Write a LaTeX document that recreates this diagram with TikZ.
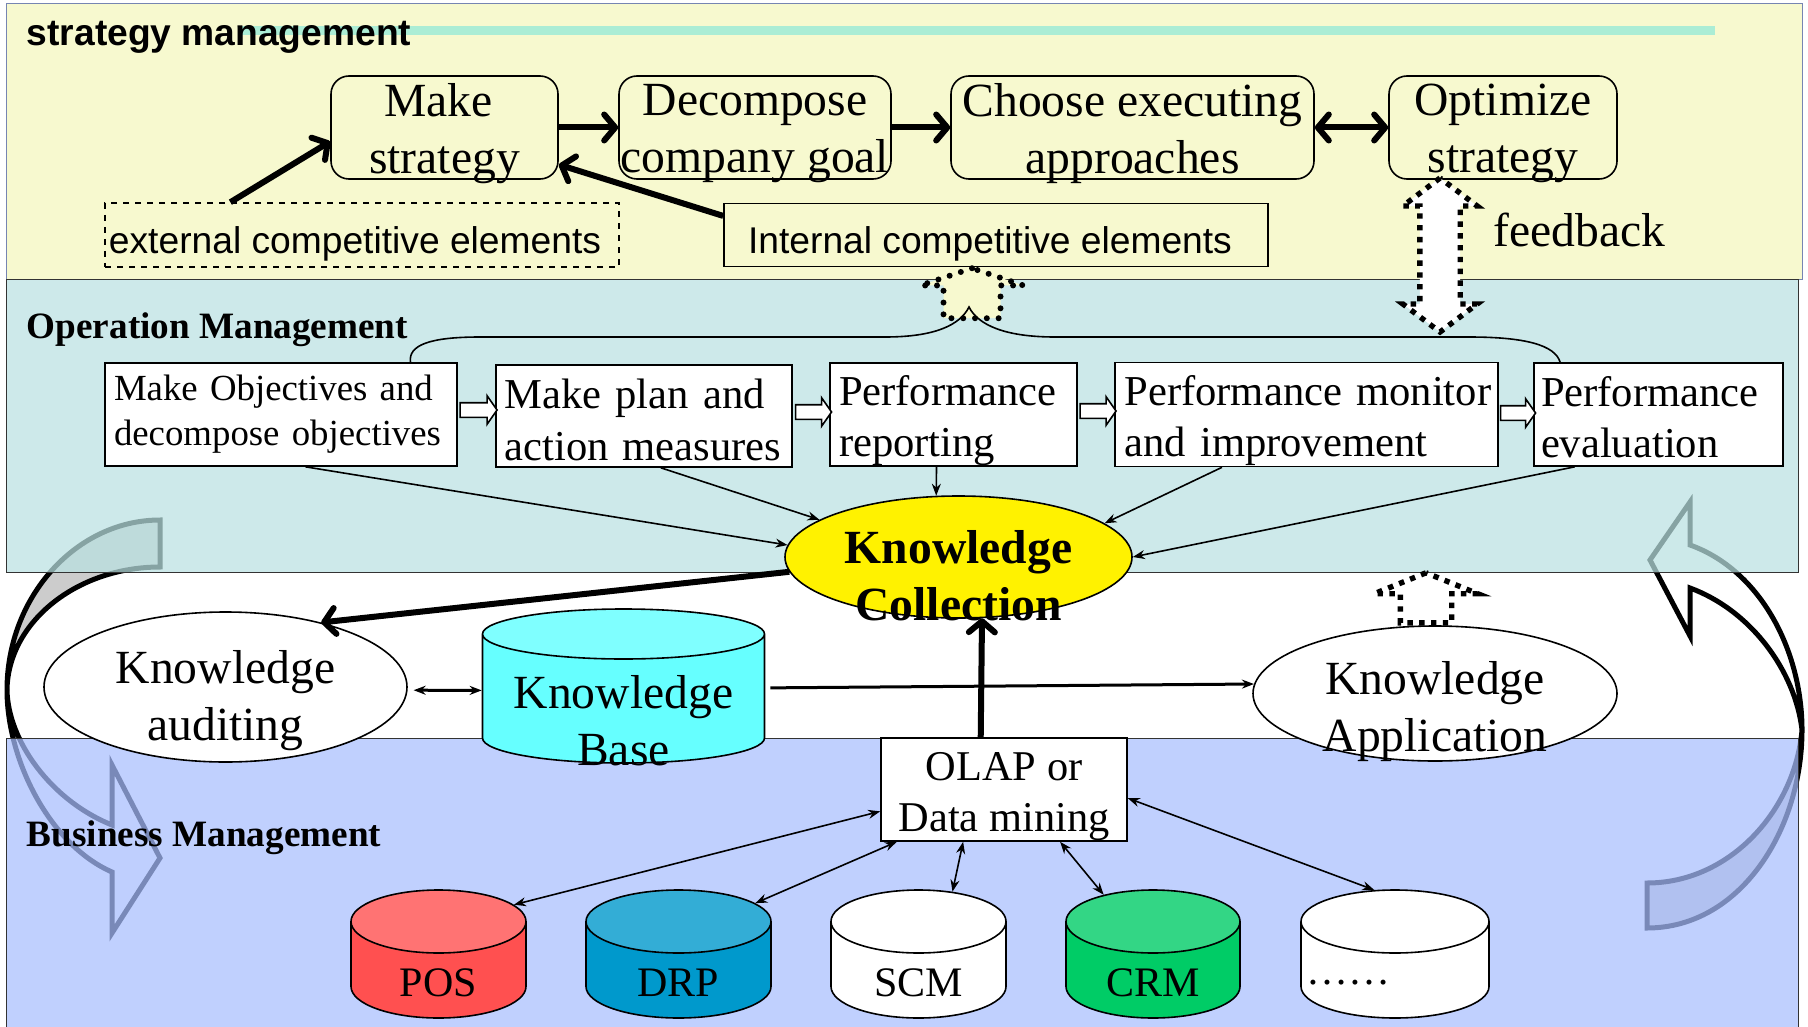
\documentclass[tikz,border=0pt]{standalone}
\usepackage{fontspec}
\setmainfont{Liberation Serif}
\newfontfamily\arialfont{Liberation Sans}
\usetikzlibrary{arrows.meta,shapes.geometric,shapes.arrows}

\definecolor{bandyellow}{RGB}{247,249,207}
\definecolor{bandteal}{RGB}{186,225,226}
\definecolor{bandblue}{RGB}{168,190,254}
\definecolor{ruleteal}{RGB}{171,237,213}
\definecolor{kbbody}{RGB}{102,255,255}
\definecolor{kbtop}{RGB}{127,255,255}
\definecolor{posbody}{RGB}{255,80,80}
\definecolor{postop}{RGB}{255,115,115}
\definecolor{drpbody}{RGB}{0,153,204}
\definecolor{drptop}{RGB}{51,173,214}
\definecolor{crmbody}{RGB}{0,204,102}
\definecolor{crmtop}{RGB}{51,214,133}

\begin{document}
\begin{tikzpicture}[->, >={Stealth[length=6pt,width=4.5pt]}, x=0.5pt, y=-0.5pt, line width=0.8pt,
  wh/.style 2 args={minimum width=#1*0.5pt, minimum height=#2*0.5pt},
  roundbox/.style={draw, rounded corners=9pt, inner sep=0pt},
  plainbox/.style={draw, fill=white, inner sep=0pt},
  oval/.style={draw, fill=white, ellipse, inner sep=0pt},
  dbase/.style={draw, cylinder, shape border rotate=90, shape aspect=#1, inner sep=10pt, cylinder uses custom fill},
  twotone/.style 2 args={cylinder body fill=#1, cylinder end fill=#2},
  midtxt/.style={inner sep=0pt, align=center, font=\fontsize{23.8}{28.6}\selectfont},
  stepfont/.style={inner sep=0pt, align=left, font=\fontsize{21.3}{25.6}\selectfont},
  dbfont/.style={midtxt, font=\fontsize{21}{25}\selectfont, yshift=-1.25pt},
  armfont/.style={inner sep=0pt, font=\arialfont\fontsize{18.6}{22}\selectfont},
  bandtitle/.style={anchor=base west, inner sep=0pt, font=\bfseries\fontsize{18.6}{22}\selectfont},
  heavy/.style={line width=3pt, -{Straight Barb[length=5.5pt,width=13pt,round]}},
  medium/.style={line width=1.5pt},
  hollow/.style={single arrow, draw, fill=white, inner xsep=0pt, inner ysep=3.25pt, minimum width=13.5pt, minimum height=#1*0.5pt,
    single arrow head extend=3.5pt, single arrow tip angle=110},
  rounddots/.style={line width=3pt, line cap=round, dash pattern=on 0pt off 5.9pt},
  squaredots/.style={line width=2.7pt, dash pattern=on 2.7pt off 3.2pt},
  bigarrow/.style={line width=2.5pt, miter limit=10}]

  \useasboundingbox (0,0) rectangle (1808,1027);

  % curved arrows lie under the see-through bands
  \draw[bigarrow, fill=black!20] (160,520) .. controls (77,520) and (7,596) .. (7,690)
    .. controls (8,622) and (77,567) .. (160,567) -- cycle;
  \draw[bigarrow, fill=white] (7,690) .. controls (7,760) and (50,845) .. (112,872)
    -- (112,933) -- (160,858) -- (112,765) -- (112,825) .. controls (50,800) and (8,740) .. (7,690) -- cycle;
  \draw[bigarrow, fill=black!20] (1647,928) .. controls (1740,928) and (1802,830) .. (1802,730)
    .. controls (1795,810) and (1730,883) .. (1647,883) -- cycle;
  \draw[bigarrow, fill=white] (1802,730) .. controls (1802,650) and (1760,570) .. (1690,545)
    -- (1690,502) -- (1650,560) -- (1690,636) -- (1690,588) .. controls (1750,610) and (1795,670) .. (1802,730) -- cycle;

  % bands
  \draw[bandblue!70!black, line width=0.5pt, fill=bandyellow] (6,4) rectangle (1802,279);
  \draw[black!80, line width=0.5pt, fill=bandteal, fill opacity=0.725] (6,279) rectangle (1798,572);
  \draw[black!80, line width=0.5pt, fill=bandblue, fill opacity=0.725] (6,738) rectangle (1798,1029);
  \draw[-, ruleteal, line width=4.5pt] (240,31) -- (1715,31);

  \node[bandtitle, font=\arialfont\bfseries\fontsize{18.6}{22}\selectfont] (StrategyTitle) at (26,46) {strategy management};
  \node[bandtitle] (OperationTitle) at (26,338) {Operation Management};
  \node[bandtitle] (BusinessTitle) at (26,846) {Business Management};

  % strategy row
  \node[roundbox, wh={227}{103}, label={[midtxt, yshift=-3pt]center:Make\hspace*{5.8pt}\\strategy}] (Make) at (444.5,127.5) {};
  \node[roundbox, wh={272}{103}, label={[midtxt, yshift=-3pt]center:Decompose\\company goal}] (Decompose) [right of=Make, node distance=155.25pt] {};
  \node[roundbox, wh={363}{103}, label={[midtxt, yshift=-3pt]center:Choose executing\\approaches}] (Choose) [right of=Decompose, node distance=188.75pt] {};
  \node[roundbox, wh={228}{103}, label={[midtxt, yshift=-3pt]center:Optimize\\strategy}] (Optimize) [right of=Choose, node distance=185.25pt] {};
  \node[draw, dashed, inner sep=0pt, wh={514}{64}, label={[armfont, xshift=-3.5pt, yshift=-4.3pt]center:external competitive elements}] (External) at (362,235) {};
  \node[draw, inner sep=0pt, wh={544}{63}, label={[armfont, xshift=-3pt, yshift=-4.3pt]center:Internal competitive elements}] (Internal) [right of=External, node distance=317pt] {};
  \node[midtxt, anchor=base west] (Feedback) at (1493,247) {feedback};

  % operation row
  \node[plainbox, wh={352}{103}, label={[inner sep=0pt, align=left, text width=167pt, yshift=0.2pt, font=\fontsize{18.4}{22.5}\selectfont]center:Make Objectives and\\decompose objectives}] (Objectives) at (281,414.5) {};
  \node[plainbox, wh={296}{102}, label={[stepfont, text width=139.5pt, yshift=-2pt]center:\makebox[139.5pt][s]{Make plan and}\\action measures}] (Plan) [right of=Objectives, node distance=181.5pt, yshift=-0.75pt] {};
  \node[plainbox, wh={247}{103}, label={[stepfont, text width=114.5pt, yshift=-3pt]center:Performance\\reporting}] (Reporting) [right of=Objectives, node distance=336.25pt] {};
  \node[plainbox, wh={383}{104}, label={[stepfont, text width=184pt, xshift=1pt, yshift=-3pt]center:\mbox{Performance monitor}\\and improvement}] (Monitor) [right of=Reporting, node distance=176.5pt] {};
  \node[plainbox, wh={249}{103}, label={[stepfont, text width=115.5pt, xshift=-1pt, yshift=-1.3pt]center:Performance\\evaluation}] (Evaluation) [right of=Monitor, node distance=176pt] {};

  \node[hollow=37] (StepOne) at (476,410) {};
  \node[hollow=36] (StepTwo) at (811,412) {};
  \node[hollow=36] (StepThree) at (1095.5,411) {};
  \node[hollow=35] (StepFour) at (1515.5,413) {};

  % knowledge row
  \node[oval, fill=yellow, wh={347}{122}, label={[midtxt, font=\bfseries\fontsize{23.8}{28.6}\selectfont, yshift=-9.5pt]center:Knowledge\\Collection}] (Collection) at (958.5,557) {};
  \node[oval, wh={363}{150}, label={[midtxt, yshift=-7pt]center:Knowledge\\auditing}] (Auditing) at (225.5,687) {};
  \node[oval, wh={364}{135}, label={[midtxt, yshift=-9pt]center:Knowledge\\Application}] (Application) at (1435,693.5) {};
  \node[dbase=1.25, twotone={kbbody}{kbtop}, wh={282}{154}, anchor=shape center, label={[midtxt, yshift=-7.5pt]center:Knowledge\\Base}] (KBase) at (623.5,686) {};
  \node[plainbox, wh={246}{103}, label={[midtxt, font=\fontsize{21.2}{25.5}\selectfont, yshift=-3.7pt]center:OLAP or\\Data mining}] (Mining) at (1004,789.5) {};

  % systems row
  \node[dbase=1.575, twotone={posbody}{postop}, wh={175}{128}, anchor=shape center, label={[dbfont]center:POS}] (POS) at (438.5,954) {};
  \node[dbase=1.575, twotone={drpbody}{drptop}, wh={185}{128}, anchor=shape center, label={[dbfont]center:DRP}] (DRP) at (678.5,954) {};
  \node[dbase=1.575, twotone={white}{white}, wh={175}{128}, anchor=shape center, label={[dbfont]center:SCM}] (SCM) at (918.5,954) {};
  \node[dbase=1.575, twotone={crmbody}{crmtop}, wh={174}{128}, anchor=shape center, label={[dbfont]center:CRM}] (CRM) at (1153,954) {};
  \node[dbase=1.575, twotone={white}{white}, wh={188}{128}, anchor=shape center, label={[dbfont]center:……\hspace{47pt}}] (Others) at (1395,954) {};

  % feedback arrows
  \node[rounddots, draw, fill=bandyellow, single arrow, shape border rotate=90, inner ysep=0pt, inner xsep=12.75pt, minimum width=48.5pt, minimum height=25pt, single arrow head extend=11.5pt, single arrow tip angle=143] (UpLeft) at (972,298) {};
  \node[squaredots, draw, fill=white, double arrow, shape border rotate=90, inner ysep=0pt, inner xsep=8.75pt, minimum width=34pt, minimum height=77pt, double arrow head extend=8.5pt, double arrow tip angle=106] (UpRight) at (1440,255) {};
  \node[squaredots, draw, fill=white, single arrow, shape border rotate=90, inner ysep=0pt, inner xsep=11.5pt, minimum width=50pt, minimum height=25pt, single arrow head extend=13pt, single arrow tip angle=136] (UpApply) at (1426,603) {};

  \coordinate (BraceTip) at (969,307);
  \draw[-] (Objectives.22.2) .. controls (408,345) and (430,337) .. (480,337) -- (885,337)
    .. controls (935,337) and (960,325) .. (BraceTip) .. controls (978,325) and (1005,337) .. (1055,337)
    -- (1469,337) .. controls (1525,337) and (1555,345) .. (Evaluation.152.9);

  \path (Make) edge [heavy] (Decompose)
        (Decompose) edge [heavy] (Choose)
        (Choose) edge [heavy, {Straight Barb[length=5.5pt,width=13pt,round]}-{Straight Barb[length=5.5pt,width=13pt,round]}] (Optimize)
        (External.166.8) edge [heavy] (Make.187.3)
        (Internal.176.1) edge [heavy] (Make.-18.3)
        (Collection.185.8) edge [heavy] (Auditing.34.5)
        (Mining.114.1) edge [heavy] (Collection.-69.8)
        (Auditing.-1) edge [medium, <->, shorten <=3pt] (KBase.174)
        (KBase.7.6) edge [medium, shorten <=2.5pt] (Application.177.6)
        (Objectives.-65) edge (Collection.176.4)
        (Plan.-72.6) edge (Collection.165.8)
        (Reporting.-108.8) edge (Collection.110.2)
        (Monitor.-148.4) edge (Collection.13.8)
        (Evaluation.-148.6) edge (Collection.-0.7)
        (Mining.190.2) edge [<->] (POS.45)
        (Mining.206.6) edge [<->] (DRP.45)
        (Mining.232.9) edge [<->] (SCM.69.1)
        (Mining.-43.6) edge [<->] (CRM.120.1)
        (Mining.-4.4) edge [<->] (Others.103.1);
\end{tikzpicture}
\end{document}
